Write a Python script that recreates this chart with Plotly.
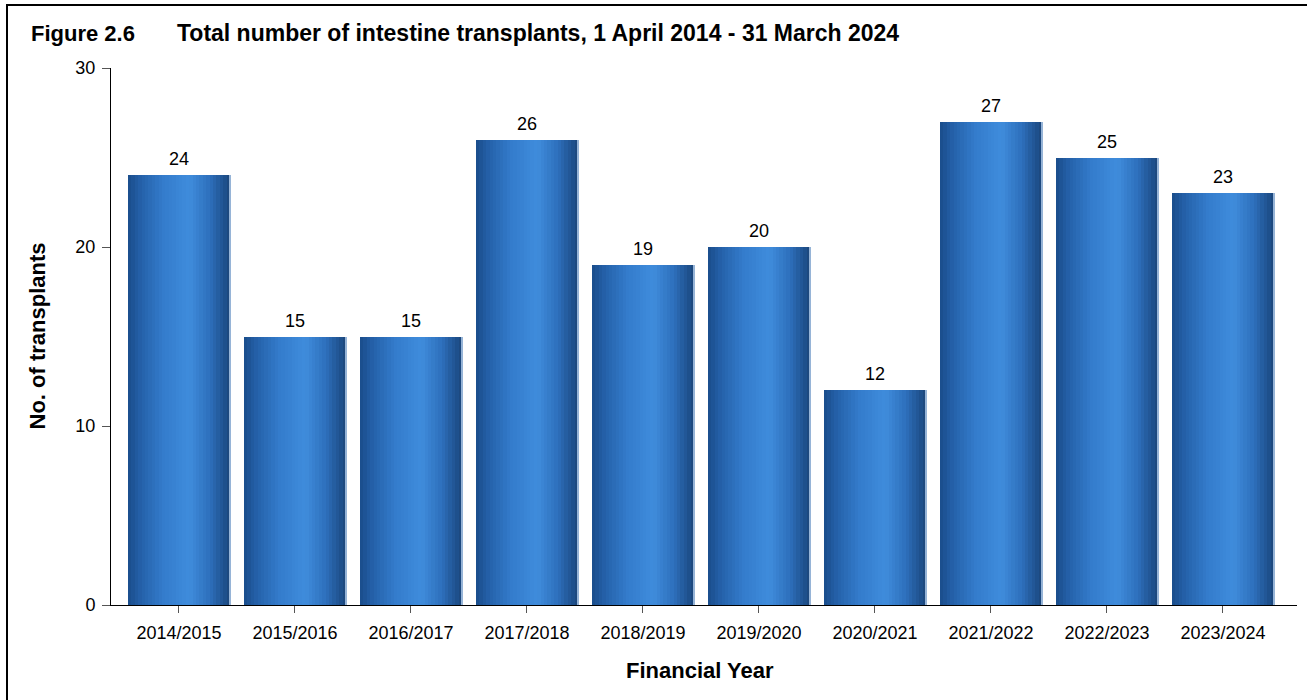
import plotly.graph_objects as go

categories = ["2014/2015", "2015/2016", "2016/2017", "2017/2018", "2018/2019",
              "2019/2020", "2020/2021", "2021/2022", "2022/2023", "2023/2024"]
transplants = [24, 15, 15, 26, 19, 20, 12, 27, 25, 23]
y_ticks = [0, 10, 20, 30]

FONT = "Arial, 'Liberation Sans', sans-serif"

# horizontal gradient for the bars (style only)
stops = [(0.0, (26, 76, 138)), (0.12, (36, 96, 168)), (0.35, (52, 124, 204)),
         (0.6, (63, 140, 220)), (0.8, (46, 112, 188)), (0.95, (30, 80, 140)),
         (1.0, (28, 70, 120))]


def grad(t):
    for (p0, c0), (p1, c1) in zip(stops[:-1], stops[1:]):
        if p0 <= t <= p1:
            f = (t - p0) / (p1 - p0) if p1 > p0 else 0
            c = [round(a + (b - a) * f) for a, b in zip(c0, c1)]
            return "rgb(%d,%d,%d)" % tuple(c)
    return "rgb(%d,%d,%d)" % stops[-1][1]


BAR_W = 0.88
N = 30
fig = go.Figure()
for i in range(N):
    t = (i + 0.5) / N
    w = BAR_W / N
    fig.add_trace(go.Bar(
        x=categories, y=transplants,
        width=w * 1.25 if i < N - 1 else w,
        offset=-BAR_W / 2 + i * w,
        marker=dict(color=grad(t), line=dict(width=0)),
        showlegend=False, hoverinfo="skip"))

# thin highlight on right edge
fig.add_trace(go.Bar(
    x=categories, y=transplants, width=0.006, offset=BAR_W / 2 - 0.006,
    marker=dict(color="rgb(150,180,215)", line=dict(width=0)),
    showlegend=False, hoverinfo="skip"))

# value labels
for c, v in zip(categories, transplants):
    fig.add_annotation(x=c, y=v, text=str(v), showarrow=False,
                       yanchor="bottom", yshift=4,
                       font=dict(family=FONT, size=18, color="black"))

L, R, T, B = 111, 10, 68, 95
W, H = 1307, 700
pw, ph = W - L - R, H - T - B

fig.update_layout(
    width=W, height=H,
    margin=dict(l=L, r=R, t=T, b=B, pad=0),
    barmode="overlay", bargap=0,
    plot_bgcolor="white", paper_bgcolor="white",
    font=dict(family=FONT, size=18, color="black"),
    xaxis=dict(type="category", range=[-0.586, 9.638],
               showline=True, linecolor="black", linewidth=1,
               ticks="outside", ticklen=7, tickcolor="#555",
               ticklabelstandoff=4,
               tickfont=dict(size=18), showgrid=False, zeroline=False),
    yaxis=dict(range=[0, 30], tickvals=y_ticks,
               showline=True, linecolor="black", linewidth=1,
               ticks="outside", ticklen=8, tickcolor="#555",
               ticklabelstandoff=3,
               tickfont=dict(size=18), showgrid=False, zeroline=False),
)

# titles
fig.add_annotation(xref="paper", yref="paper",
                   x=(29 - L) / pw, y=1 + (T - 33) / ph,
                   xanchor="left", yanchor="middle", showarrow=False,
                   text="<b>Figure 2.6</b>", font=dict(family=FONT, size=22))
fig.add_annotation(xref="paper", yref="paper",
                   x=(175 - L) / pw, y=1 + (T - 33) / ph,
                   xanchor="left", yanchor="middle", showarrow=False,
                   text="<b>Total number of intestine transplants, 1 April 2014 - 31 March 2024</b>",
                   font=dict(family=FONT, size=23))
fig.add_annotation(xref="paper", yref="paper",
                   x=(37 - L) / pw, y=0.5, textangle=-90,
                   xanchor="center", yanchor="middle", showarrow=False,
                   text="<b>No. of transplants</b>", font=dict(family=FONT, size=22))
fig.add_annotation(xref="paper", yref="paper",
                   x=(700 - L) / pw, y=-(670 - (T + ph)) / ph,
                   xanchor="center", yanchor="middle", showarrow=False,
                   text="<b>Financial Year</b>", font=dict(family=FONT, size=22))

# frame (top and left edges)
fig.add_shape(type="line", xref="paper", yref="paper",
              x0=(6 - L) / pw, x1=(W + 5 - L) / pw,
              y0=1 + (T - 5) / ph, y1=1 + (T - 5) / ph,
              line=dict(color="black", width=2))
fig.add_shape(type="line", xref="paper", yref="paper",
              x0=(7 - L) / pw, x1=(7 - L) / pw,
              y0=1 + (T - 5) / ph, y1=-(H + 5 - T - ph) / ph,
              line=dict(color="black", width=2))

fig.write_html("out.html", config={"displayModeBar": False},
               post_script="document.body.style.margin='0';")
